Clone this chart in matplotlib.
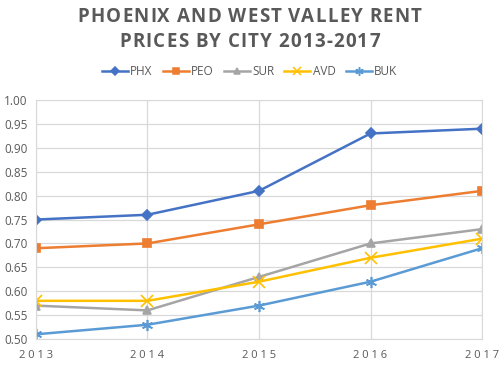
import numpy as np
import matplotlib
matplotlib.use("Agg")
import matplotlib.pyplot as plt
from matplotlib.lines import Line2D

# Rent prices
years = [2013, 2014, 2015, 2016, 2017]
phx = [0.75, 0.76, 0.81, 0.93, 0.94]
peo = [0.69, 0.70, 0.74, 0.78, 0.81]
sur = [0.57, 0.56, 0.63, 0.70, 0.73]
avd = [0.58, 0.58, 0.62, 0.67, 0.71]
buk = [0.51, 0.53, 0.57, 0.62, 0.69]
names = ["PHX", "PEO", "SUR", "AVD", "BUK"]
title_lines = ["PHOENIX AND WEST VALLEY RENT", "PRICES BY CITY 2013-2017"]

colors = ["#4472C4", "#ED7D31", "#A5A5A5", "#FFC000", "#5B9BD5"]
markers = ["D", "s", "^", "x", (6, 2, 0)]
sizes = [5, 6, 6, 8, 8]

plt.rcParams["font.family"] = ["Open Sans", "DejaVu Sans"]
fig = plt.figure(figsize=(4.99, 3.65), dpi=100)
ax = fig.add_axes([0.072, 0.071, 0.894, 0.655])

for vals, name, c, m, s in zip([phx, peo, sur, avd, buk], names, colors, markers, sizes):
    ax.plot(years, vals, color=c, lw=1.8, marker=m, ms=s, mew=1.2, label=name)

ax.set_xlim(2013, 2017)
ax.set_ylim(0.5, 1.0)
ax.set_xticks(years)
ax.set_xticklabels([" ".join(str(y)) for y in years])
ax.set_yticks(np.arange(0.5, 1.001, 0.05))
ax.set_yticklabels(["%.2f" % v for v in np.arange(0.5, 1.001, 0.05)])
ax.grid(True, color="#D9D9D9", lw=0.9)
ax.set_axisbelow(True)
for sp in ax.spines.values():
    sp.set_color("#D9D9D9")
ax.tick_params(length=0, colors="#595959", labelsize=8.5, pad=6)
ax.tick_params(axis="x", pad=8, labelsize=8)

# title with letter spacing, drawn one character at a time
renderer = fig.canvas.get_renderer()
W, H = fig.bbox.width, fig.bbox.height
track = 1.2  # extra px between letters
for line, ypx in zip(title_lines, [17, 42]):
    widths = []
    for ch in line:
        t = fig.text(0, 0, ch, fontsize=13.5, fontweight="bold")
        widths.append(t.get_window_extent(renderer).width if ch != " " else 4.5)
        t.remove()
    total = sum(widths) + track * (len(line) - 1)
    x = W / 2 - total / 2
    for ch, w in zip(line, widths):
        fig.text(x / W, 1 - ypx / H, ch, fontsize=13.5, fontweight="bold",
                 color="#595959", ha="left", va="center")
        x += w + track

handles = [Line2D([], [], color=c, lw=1.8, marker=m, ms=s * 0.75, mew=1.1)
           for c, m, s in zip(colors, markers, sizes)]
fig.legend(handles, names, loc="center", bbox_to_anchor=(0.5, 0.803),
           ncol=5, frameon=False, fontsize=8.5, handlelength=2.2,
           handletextpad=0.2, columnspacing=0.85, labelcolor="#595959")

fig.savefig("out.png", dpi=100)
